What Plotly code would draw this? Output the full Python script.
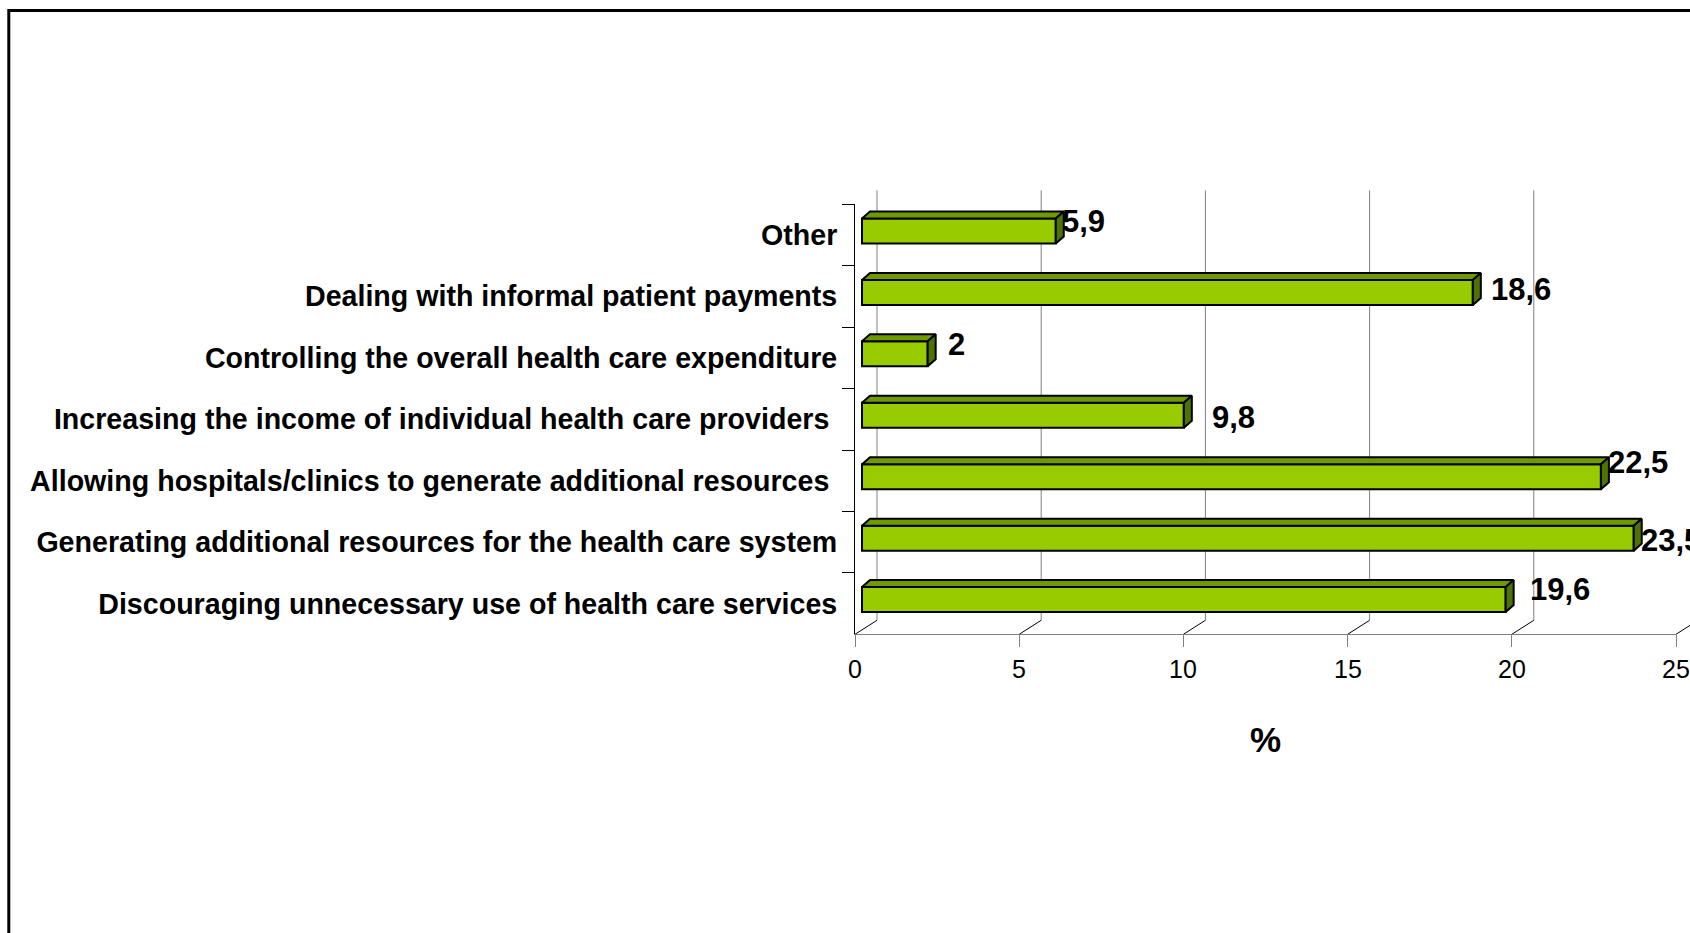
import plotly.graph_objects as go

# Survey answers, listed bottom to top
categories = [
    "Discouraging unnecessary use of health care services",
    "Generating additional resources for the health care system",
    "Allowing hospitals/clinics to generate additional resources\u00a0",
    "Increasing the income of individual health care providers\u00a0",
    "Controlling the overall health care expenditure",
    "Dealing with informal patient payments",
    "Other",
]
values = [19.6, 23.5, 22.5, 9.8, 2.0, 18.6, 5.9]
value_text = ["19,6", "23,5", "22,5", "9,8", "2", "18,6", "5,9"]
x_ticks = [0, 5, 10, 15, 20, 25]
x_tick_text = ["0", "5", "10", "15", "20", "25"]

# Pixel offsets of each value label from the end of its bar (right, up)
label_dx = [22, 5, 5, 26, 18, 16, 4]
label_dy = [14, 2, 18, 2, 13, 7, 14]

# ---- page geometry (pixels) ----
W, H = 1690, 933
FRONT_LEFT, FRONT_RIGHT = 855, 1676      # front plane of the 3-D box
FRONT_TOP, FRONT_BOTTOM = 204.3, 634.3
X_MAX = 25
WALL_DX, WALL_DY = 22, 14                # back wall offset
BAR_FRONT_DX, BAR_FRONT_DY = 7, 4        # bar front face offset
BAR_THICK = 25                           # bar height in px
BAR_DX, BAR_DY = 8, 7                    # bar depth
TICK_LABEL_Y = 669                       # centre line of the value-axis labels

FRONT = "#99CC00"
TOP = "#6E9A00"
SIDE = "#4F7300"
GRID = "#808080"
FONT = "Liberation Sans, Arial, sans-serif"

n = len(categories)
px_x = (FRONT_RIGHT - FRONT_LEFT) / X_MAX
px_y = (FRONT_BOTTOM - FRONT_TOP) / n


def ux(px):
    return px / px_x


def uy(px):
    return px / px_y


x_range = [-FRONT_LEFT / px_x, (W - FRONT_LEFT) / px_x]
y_range = [(FRONT_BOTTOM - H) / px_y - 0.5, FRONT_BOTTOM / px_y - 0.5]

fig = go.Figure()

# front faces of the bars
base = ux(BAR_FRONT_DX)
yc = [i + uy(BAR_FRONT_DY) for i in range(n)]
half = uy(BAR_THICK) / 2
fig.add_trace(go.Bar(
    x=values, y=yc, base=base, orientation="h", width=uy(BAR_THICK),
    marker=dict(color=FRONT, line=dict(color="black", width=2)),
    hoverinfo="skip", showlegend=False,
))

# top and side faces
ddx, ddy = ux(BAR_DX), uy(BAR_DY)
for v, c in zip(values, yc):
    x0, x1 = base, base + v
    yt, yb = c + half, c - half
    fig.add_trace(go.Scatter(
        x=[x0, x0 + ddx, x1 + ddx, x1, x0],
        y=[yt, yt + ddy, yt + ddy, yt, yt],
        mode="lines", fill="toself", fillcolor=TOP,
        line=dict(color="black", width=2), hoverinfo="skip", showlegend=False,
    ))
    fig.add_trace(go.Scatter(
        x=[x1, x1 + ddx, x1 + ddx, x1, x1],
        y=[yt, yt + ddy, yb + ddy, yb, yt],
        mode="lines", fill="toself", fillcolor=SIDE,
        line=dict(color="black", width=2), hoverinfo="skip", showlegend=False,
    ))

# back wall gridlines and floor diagonals
wdx, wdy = ux(WALL_DX), uy(WALL_DY)
shapes = []
for t in x_ticks:
    shapes.append(dict(type="line", xref="x", yref="y", layer="below",
                       x0=t + wdx, x1=t + wdx, y0=-0.5 + wdy, y1=n - 0.5 + wdy,
                       line=dict(color=GRID, width=1)))
    shapes.append(dict(type="line", xref="x", yref="y", layer="below",
                       x0=t, x1=t + wdx, y0=-0.5, y1=-0.5 + wdy,
                       line=dict(color="black", width=1)))

# outer chart border
shapes.append(dict(type="rect", xref="paper", yref="paper",
                   x0=8.8 / W, x1=1.05, y0=-0.05, y1=1 - 10.5 / H,
                   line=dict(color="black", width=3)))

# value labels
annotations = []
for i, (v, t) in enumerate(zip(values, value_text)):
    annotations.append(dict(
        x=base + v, y=i, xref="x", yref="y", text=t, showarrow=False,
        xanchor="left", yanchor="middle", xshift=label_dx[i], yshift=label_dy[i],
        font=dict(family=FONT, size=31, color="black", weight="bold"),
    ))

# value-axis tick labels
for t, s in zip(x_ticks, x_tick_text):
    annotations.append(dict(
        x=t, y=1 - TICK_LABEL_Y / H, xref="x2", yref="paper", text=s,
        showarrow=False, xanchor="center", yanchor="middle",
        font=dict(family=FONT, size=25, color="black"),
    ))

# axis carrier for the front-plane category / value axes
fig.add_trace(go.Scatter(
    x=values, y=categories, xaxis="x2", yaxis="y2", mode="markers",
    marker=dict(opacity=0), hoverinfo="skip", showlegend=False,
))

fig.update_layout(
    width=W, height=H,
    margin=dict(l=0, r=0, t=0, b=0),
    paper_bgcolor="white", plot_bgcolor="rgba(0,0,0,0)",
    showlegend=False,
    xaxis=dict(domain=[0, 1], range=x_range, visible=False, fixedrange=True),
    yaxis=dict(domain=[0, 1], range=y_range, visible=False, fixedrange=True),
    xaxis2=dict(
        domain=[FRONT_LEFT / W, FRONT_RIGHT / W], anchor="y2",
        range=[0, X_MAX], tickvals=x_ticks, showticklabels=False,
        ticks="outside", ticklen=12,
        tickcolor=GRID, showline=True, linecolor=GRID, linewidth=1,
        showgrid=False, zeroline=False,
        title=dict(text="%", standoff=81,
                   font=dict(family=FONT, size=35, color="black", weight="bold")),
    ),
    yaxis2=dict(
        domain=[1 - FRONT_BOTTOM / H, 1 - FRONT_TOP / H], anchor="x2",
        type="category", categoryarray=categories, range=[-0.5, n - 0.5],
        tickson="boundaries", ticks="outside", ticklen=12, tickcolor="black",
        showline=True, linecolor="black", linewidth=1, showgrid=False,
        ticklabelstandoff=11,
        tickfont=dict(family=FONT, size=28.6, color="black", weight="bold"),
    ),
    shapes=shapes,
    annotations=annotations,
)

fig.write_html("out.html")
